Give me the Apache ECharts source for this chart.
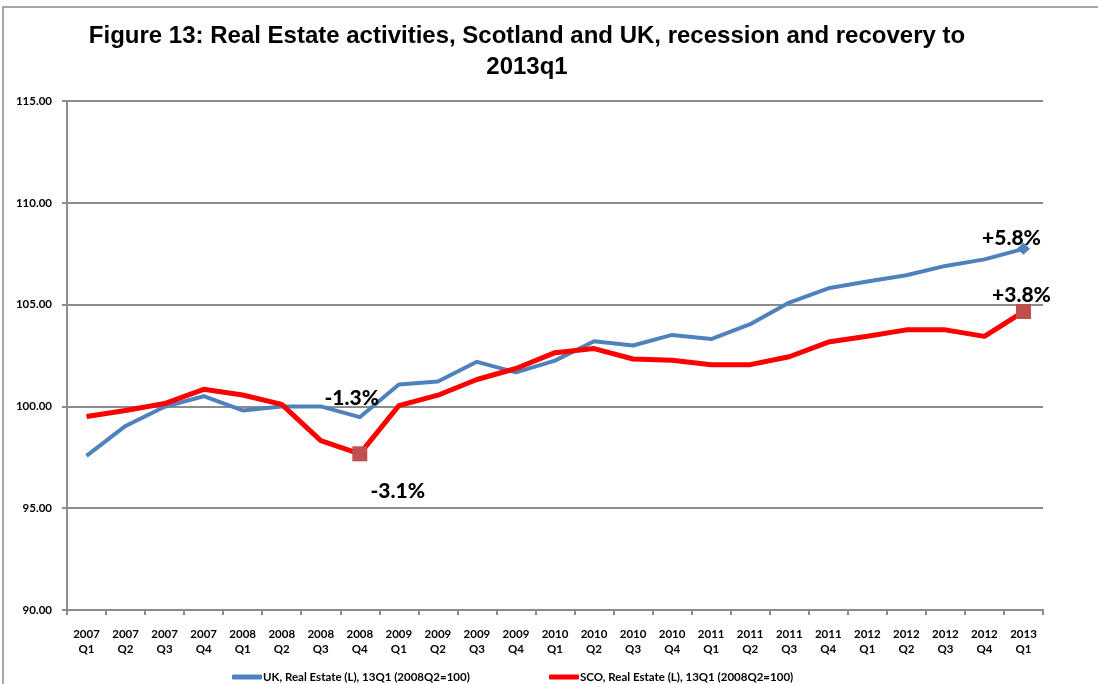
<!DOCTYPE html>
<html>
<head>
<meta charset="utf-8">
<title>Real Estate activities, Scotland and UK</title>
<script src="https://cdn.jsdelivr.net/npm/echarts@6/dist/echarts.min.js"></script>
<style>
  html, body { margin: 0; padding: 0; background: #ffffff; }
  #chart { width: 1098px; height: 684px; }
</style>
</head>
<body>
<div id="chart"></div>
<script>
// Quarters from 2007 Q1 to 2013 Q1 (two-line tick labels)
const quarters = [
  '2007\nQ1', '2007\nQ2', '2007\nQ3', '2007\nQ4',
  '2008\nQ1', '2008\nQ2', '2008\nQ3', '2008\nQ4',
  '2009\nQ1', '2009\nQ2', '2009\nQ3', '2009\nQ4',
  '2010\nQ1', '2010\nQ2', '2010\nQ3', '2010\nQ4',
  '2011\nQ1', '2011\nQ2', '2011\nQ3', '2011\nQ4',
  '2012\nQ1', '2012\nQ2', '2012\nQ3', '2012\nQ4',
  '2013\nQ1'
];

// Index values, 2008Q2 = 100
const ukValues = [
  97.57, 99.04, 99.98, 100.50, 99.80, 100.00, 100.00, 99.47,
  101.08, 101.22, 102.19, 101.67, 102.25, 103.20, 102.99, 103.51,
  103.31, 104.04, 105.10, 105.80, 106.13, 106.44, 106.90, 107.22, 107.74
];
const scoValues = [
  99.50, 99.80, 100.14, 100.84, 100.56, 100.10, 98.32, 97.67,
  100.04, 100.55, 101.32, 101.86, 102.64, 102.84, 102.33, 102.27,
  102.05, 102.05, 102.44, 103.16, 103.45, 103.76, 103.76, 103.44, 104.66
];

const ukName = 'UK, Real Estate (L), 13Q1 (2008Q2=100)';
const scoName = 'SCO, Real Estate (L), 13Q1 (2008Q2=100)';

// Annotated points: index, label text, label offset from the point
const ukNotes = [
  { idx: 7, text: '-1.3%', offset: [-8, -19], symbol: 'circle', size: 0.1 },
  { idx: 24, text: '+5.8%', offset: [-12, -11], symbol: 'diamond', size: [13, 12] }
];
const scoNotes = [
  { idx: 7, text: '-3.1%', offset: [38, 37], symbol: 'rect', size: 15 },
  { idx: 24, text: '+3.8%', offset: [-2, -16], symbol: 'rect', size: 15 }
];

const UK_COLOR = '#4f81bd';
const SCO_COLOR = '#ff0000';
const MARK_COLOR = '#c0504d';
const GRID_COLOR = '#8c8c8c';
const LABEL_FONT = 'Lato, "Open Sans", sans-serif';
const TITLE_FONT = 'bold 24px "Liberation Sans", Arial, sans-serif';

function buildData(values, notes, markColor) {
  return values.map((v, i) => {
    const note = notes.find(n => n.idx === i);
    if (!note) return v;
    return {
      value: v,
      symbol: note.symbol,
      symbolSize: note.size,
      itemStyle: { color: markColor, borderWidth: 0 },
      label: {
        show: true,
        position: 'inside',
        offset: note.offset,
        formatter: note.text,
        color: '#000000',
        fontFamily: LABEL_FONT,
        fontWeight: 900,
        fontSize: 21
      }
    };
  });
}

const chart = echarts.init(document.getElementById('chart'), null, { renderer: 'canvas' });

const legendBase = {
  top: 671,
  padding: 0,
  itemWidth: 30,
  itemHeight: 5,
  itemGap: 2,
  icon: 'roundRect',
  selectedMode: false,
  textStyle: { fontFamily: LABEL_FONT, fontWeight: 'bold', fontSize: 11.5, color: '#000000', padding: [0, 0, 0, -4] }
};

const option = {
  backgroundColor: '#ffffff',
  animation: false,
  graphic: [
    {
      type: 'rect',
      silent: true,
      shape: { x: 3, y: 7, width: 1200, height: 800 },
      style: { fill: 'none', stroke: '#8c8c8c', lineWidth: 1.5 }
    },
    {
      type: 'text',
      silent: true,
      x: 527,
      y: 36,
      style: {
        text: 'Figure 13: Real Estate activities, Scotland and UK, recession and recovery to',
        textAlign: 'center',
        textVerticalAlign: 'middle',
        font: TITLE_FONT,
        fill: '#000000'
      }
    },
    {
      type: 'text',
      silent: true,
      x: 527,
      y: 67,
      style: {
        text: '2013q1',
        textAlign: 'center',
        textVerticalAlign: 'middle',
        font: TITLE_FONT,
        fill: '#000000'
      }
    }
  ],
  grid: { left: 67, right: 55, top: 101, bottom: 74, containLabel: false },
  legend: [
    Object.assign({ data: [ukName], left: 232 }, legendBase),
    Object.assign({ data: [scoName], left: 549 }, legendBase)
  ],
  xAxis: {
    type: 'category',
    data: quarters,
    boundaryGap: true,
    axisLine: { show: true, lineStyle: { color: GRID_COLOR, width: 2 } },
    axisTick: { show: true, interval: 0, length: 5, lineStyle: { color: GRID_COLOR, width: 2 } },
    axisLabel: {
      interval: 0,
      margin: 17,
      fontFamily: LABEL_FONT,
      fontWeight: 'bold',
      fontSize: 11.5,
      lineHeight: 15,
      color: '#000000'
    },
    splitLine: { show: false }
  },
  yAxis: {
    type: 'value',
    min: 90,
    max: 115,
    interval: 5,
    axisLine: { show: true, lineStyle: { color: GRID_COLOR, width: 2 } },
    axisTick: { show: true, length: 5, lineStyle: { color: GRID_COLOR, width: 2 } },
    axisLabel: {
      margin: 15,
      formatter: v => v.toFixed(2),
      fontFamily: LABEL_FONT,
      fontWeight: 'bold',
      fontSize: 11.5,
      color: '#000000'
    },
    splitLine: { show: true, lineStyle: { color: GRID_COLOR, width: 2 } }
  },
  series: [
    {
      name: ukName,
      type: 'line',
      data: buildData(ukValues, ukNotes, UK_COLOR),
      symbol: 'none',
      color: UK_COLOR,
      lineStyle: { color: UK_COLOR, width: 4, join: 'round' },
      z: 3
    },
    {
      name: scoName,
      type: 'line',
      data: buildData(scoValues, scoNotes, MARK_COLOR),
      symbol: 'none',
      color: SCO_COLOR,
      lineStyle: { color: SCO_COLOR, width: 5, join: 'round' },
      z: 4
    }
  ]
};

chart.setOption(option);
</script>
</body>
</html>
